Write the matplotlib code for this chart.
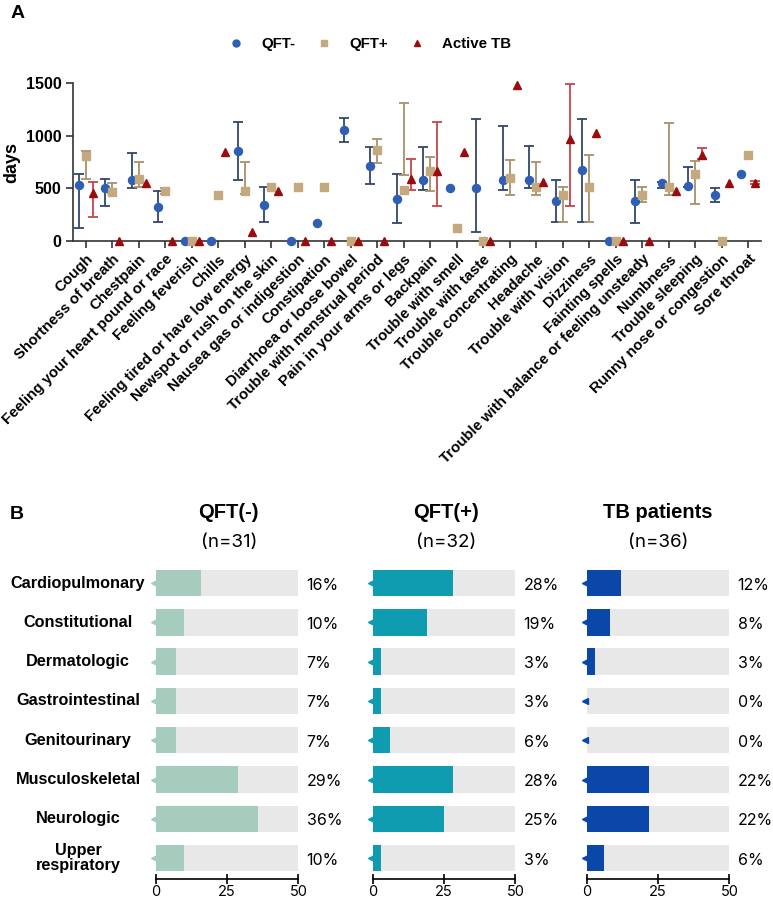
import numpy as np
import matplotlib
matplotlib.use("Agg")
import matplotlib.pyplot as plt
from matplotlib.lines import Line2D
from matplotlib.transforms import blended_transform_factory

plt.rcParams['font.family'] = ['Liberation Sans', 'DejaVu Sans']

nan = np.nan

symptoms = ["Cough", "Shortness of breath", "Chestpain", "Feeling your heart pound or race",
            "Feeling feverish", "Chills", "Feeling tired or have low energy",
            "Newspot or rush on the skin", "Nausea gas or indigestion", "Constipation",
            "Diarrhoea or loose bowel", "Trouble with menstrual period",
            "Pain in your arms or legs", "Backpain", "Trouble with smell", "Trouble with taste",
            "Trouble concentrating", "Headache", "Trouble with vision", "Dizziness",
            "Fainting spells", "Trouble with balance or feeling unsteady", "Numbness",
            "Trouble sleeping", "Runny nose or congestion", "Sore throat"]

# QFT- (days): mean, lower, upper
neg_mean = [530, 504, 580, 327, 0, 0, 859, 342, 0, 168, 1056, 714, 403, 583, 507, 507,
            583, 583, 377, 672, 0, 377, 553, 519, 437, 634]
neg_lo = [127, 333, 504, 178, nan, nan, 580, 178, nan, nan, 942, 539, 168, 482, nan, 86,
          482, 504, 178, 178, nan, 168, 506, 510, 367, nan]
neg_hi = [634, 593, 840, 479, nan, nan, 1129, 510, nan, nan, 1170, 891, 634, 891, nan, 1164,
          1094, 900, 583, 1164, nan, 583, 560, 705, 506, nan]

# QFT+
pos_mean = [812, 469, 590, 472, 0, 441, 472, 514, 514, 514, 0, 866, 484, 666, 120, 0,
            602, 514, 438, 517, 0, 441, 514, 634, 0, 815]
pos_lo = [590, 460, 517, 450, nan, nan, 450, nan, nan, nan, nan, 742, 629, 479, nan, nan,
          438, 438, 178, 178, nan, 368, 438, 349, nan, nan]
pos_hi = [859, 552, 748, 500, nan, nan, 752, nan, nan, nan, nan, 970, 1310, 796, nan, nan,
          770, 752, 517, 815, nan, 517, 1123, 761, nan, nan]

# Active TB
tb_mean = [453, 0, 552, 0, 0, 843, 82, 476, 0, 0, 0, 0, 590, 666, 843, 0,
           1484, 561, 973, 1027, 0, 0, 479, 823, 555, 555]
tb_lo = [225, nan, nan, nan, nan, nan, nan, nan, nan, nan, nan, nan, 482, 330, nan, nan,
         nan, nan, 330, nan, nan, nan, nan, 776, nan, 540]
tb_hi = [561, nan, nan, nan, nan, nan, nan, nan, nan, nan, nan, nan, 777, 1132, nan, nan,
         nan, nan, 1490, nan, nan, nan, nan, 883, nan, 570]

# panel B
systems = ["Cardiopulmonary", "Constitutional", "Dermatologic", "Gastrointestinal",
           "Genitourinary", "Musculoskeletal", "Neurologic", "Upper\nrespiratory"]
groups = ["QFT(-)", "QFT(+)", "TB patients"]
group_n = ["(n=31)", "(n=32)", "(n=36)"]
pct_neg = [16, 10, 7, 7, 7, 29, 36, 10]
pct_pos = [28, 19, 3, 3, 6, 28, 25, 3]
pct_tb = [12, 8, 3, 0, 0, 22, 22, 6]

fig = plt.figure(figsize=(7.73, 9), dpi=100)

# ---------------- panel A ----------------
ax = fig.add_axes([0.0948, 0.7322, 0.8897, 0.1752])
x = np.arange(len(symptoms))
off = 0.27
series = [
    (neg_mean, neg_lo, neg_hi, -off, 'o', '#2e5fb4', '#33476c', 5.8),
    (pos_mean, pos_lo, pos_hi, 0.0, 's', '#c3a97d', '#a8916b', 5.6),
    (tb_mean, tb_lo, tb_hi, off, '^', '#9b0b0d', '#c4454a', 6.2),
]
for mean, lo, hi, dx, mk, mc, ec, ms in series:
    lo = np.array(lo, dtype=float)
    hi = np.array(hi, dtype=float)
    ok = ~np.isnan(lo)
    ax.vlines(x[ok] + dx, lo[ok], hi[ok], color=ec, lw=1.3, zorder=2)
    ax.plot(x[ok] + dx, lo[ok], ls='none', marker='_', ms=7, mew=1.3, color=ec, zorder=2)
    ax.plot(x[ok] + dx, hi[ok], ls='none', marker='_', ms=7, mew=1.3, color=ec, zorder=2)
    ax.plot(x + dx, mean, ls='none', marker=mk, ms=ms, color=mc, mec=mc, zorder=3,
            clip_on=False)

ax.set_xlim(-0.47, 25.48)
ax.set_ylim(0, 1500)
ax.set_yticks([0, 500, 1000, 1500])
ax.set_xticks(x)
ax.set_xticklabels(symptoms, rotation=45, ha='right', va='top', rotation_mode='anchor',
                   fontsize=10.8, fontweight='bold')
for lab in ax.get_yticklabels():
    lab.set_fontweight('bold')
    lab.set_fontsize(11.5)
ax.set_ylabel('days', fontsize=13, fontweight='bold', labelpad=4)
ax.spines['top'].set_visible(False)
ax.spines['right'].set_visible(False)
for s in ['left', 'bottom']:
    ax.spines[s].set_linewidth(1.2)
    ax.spines[s].set_color('#333333')
ax.tick_params(axis='both', length=5, width=1.2, color='#333333')
ax.tick_params(axis='x', pad=3)

handles = [Line2D([], [], ls='none', marker='o', ms=5, color='#2e5fb4'),
           Line2D([], [], ls='none', marker='s', ms=5, color='#c3a97d'),
           Line2D([], [], ls='none', marker='^', ms=5, color='#9b0b0d')]
fig.legend(handles, ['QFT-', 'QFT+', 'Active TB'], loc='center', ncol=3,
           bbox_to_anchor=(0.474, 0.951), frameon=False, handletextpad=0.7,
           columnspacing=0.9, prop={'weight': 'bold', 'size': 10.8})

fig.text(0.013, 0.985, 'A', fontsize=14, fontweight='bold', va='center')
fig.text(0.013, 0.428, 'B', fontsize=14, fontweight='bold', va='center')

# ---------------- panel B ----------------
colors = ['#a6ccbd', '#0f9bb0', '#0a47a8']
lefts = [0.1992, 0.4799, 0.7568]
title_x = [0.296, 0.577, 0.851]
pcts = [pct_neg, pct_pos, pct_tb]
y = np.arange(len(systems))
for k in range(3):
    bx = fig.add_axes([lefts[k], 0.0233, 0.189, 0.3507])
    bx.barh(y, [50] * len(y), height=0.67, color='#e8e8e8', zorder=1)
    bx.barh(y, pcts[k], height=0.67, color=colors[k], zorder=2)
    bx.plot([-0.5] * len(y), y, ls='none', marker='<', ms=5, color=colors[k],
            clip_on=False, zorder=3)
    bx.set_xlim(-0.6, 50.6)
    bx.set_ylim(7.53, -0.5)
    bx.set_yticks([])
    bx.set_xticks([0, 25, 50])
    for s in ['top', 'right', 'left']:
        bx.spines[s].set_visible(False)
    bx.spines['bottom'].set_bounds(0, 50)
    bx.spines['bottom'].set_linewidth(1.2)
    bx.tick_params(axis='x', direction='inout', length=7, width=1.2, labelsize=10.5, pad=1)
    for lab in bx.get_xticklabels():
        lab.set_family(['Inter', 'DejaVu Sans'])
    tr = blended_transform_factory(bx.transAxes, bx.transData)
    for i, v in enumerate(pcts[k]):
        bx.text(1.045, i + 0.05, f'{v}%', transform=tr, ha='left', va='center',
                fontsize=11.5, family=['Inter', 'DejaVu Sans'])
    fig.text(title_x[k], 0.430, groups[k], ha='center', va='center', fontsize=14.5,
             fontweight='bold')
    fig.text(title_x[k], 0.397, group_n[k], ha='center', va='center', fontsize=13.5,
             family=['Inter', 'DejaVu Sans'])
    if k == 0:
        trf = blended_transform_factory(fig.transFigure, bx.transData)
        for i, name in enumerate(systems):
            bx.text(0.101, i, name, transform=trf, ha='center', va='center',
                    fontsize=11.7, fontweight='bold', linespacing=1.05)

fig.savefig('out.png', dpi=100)
